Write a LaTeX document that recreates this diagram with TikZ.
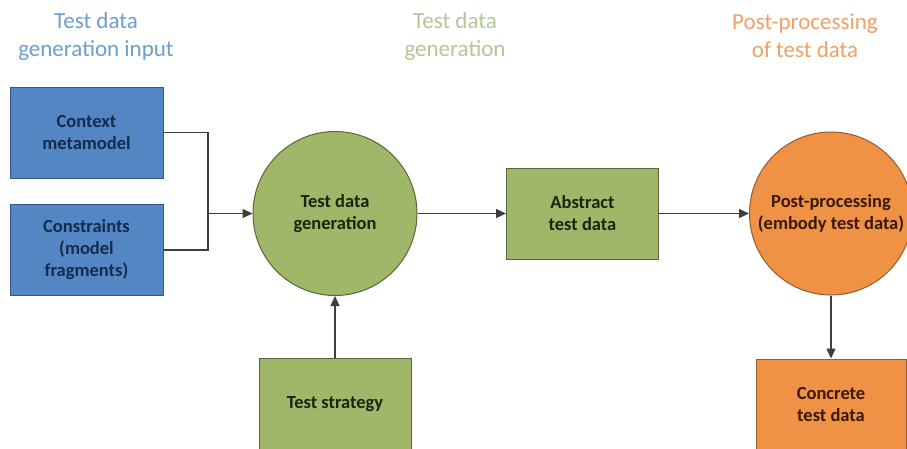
\documentclass[tikz,border=0pt]{standalone}
\usepackage{fontspec}
\setmainfont{Carlito}
\usetikzlibrary{arrows.meta}

\definecolor{bluefill}{RGB}{84,134,195}
\definecolor{blueedge}{RGB}{52,86,128}
\definecolor{bluetext}{RGB}{20,44,78}
\definecolor{greenfill}{RGB}{160,182,104}
\definecolor{greenedge}{RGB}{88,102,58}
\definecolor{greentext}{RGB}{28,36,12}
\definecolor{orangefill}{RGB}{240,146,70}
\definecolor{orangeedge}{RGB}{150,92,48}
\definecolor{orangetext}{RGB}{58,24,6}
\definecolor{wire}{RGB}{62,62,62}
\definecolor{titleblue}{RGB}{110,158,202}
\definecolor{titlegreen}{RGB}{180,198,150}
\definecolor{titleorange}{RGB}{240,160,105}

\tikzset{
  boxtext/.style={font=\fontsize{18.5}{22}\selectfont\bfseries, align=center, inner sep=0pt},
  bluebox/.style={boxtext, draw=blueedge, line width=1pt, fill=bluefill, text=bluetext,
                  minimum width=153pt, minimum height=91pt},
  greenbox/.style={boxtext, draw=greenedge, line width=1pt, fill=greenfill, text=greentext,
                   minimum width=152pt, minimum height=91pt},
  greencirc/.style={boxtext, circle, draw=greenedge, line width=1pt, fill=greenfill, text=greentext,
                    minimum size=164pt},
  orangecirc/.style={boxtext, circle, draw=orangeedge, line width=1pt, fill=orangefill, text=orangetext,
                     minimum size=163pt},
  orangebox/.style={boxtext, draw=orangeedge, line width=1pt, fill=orangefill, text=orangetext,
                    minimum width=150pt, minimum height=90pt},
  phasetitle/.style={font=\fontsize{23}{28}\selectfont, align=center, inner sep=0pt},
  wireline/.style={draw=wire, line width=1.3pt},
  flow/.style={wireline, -{Triangle[length=10pt, width=9pt]}},
}

\begin{document}
\begin{tikzpicture}[x=1pt, y=-1pt]
  \useasboundingbox (0,0) rectangle (907,448);
  \fill[white] (0,0) rectangle (907,448);

  % phase headings
  \node[phasetitle, text=titleblue]   (tinput) at (96,36)  {Test data\\generation input};
  \node[phasetitle, text=titlegreen]  (tgen)   at (455,36) {Test data\\generation};
  \node[phasetitle, text=titleorange] (tpost)  at (805,36) {Post-processing\\of test data};

  % inputs
  \node[bluebox] (ctx)  at (86.5,132.5) {Context\\metamodel};
  \node[bluebox] (cons) at (86.5,250)   {Constraints\\(model\\fragments)};

  % generation
  \node[greencirc] (gen)   at (335,213.5)   {Test data\\generation};
  \node[greenbox]  (strat) at (335,404)     {Test strategy};
  \node[greenbox]  (abs)   at (582.5,213.5) {Abstract\\test data};

  % post-processing
  \node[orangecirc] (post) at (831,213.5) {Post-processing\\(embody test data)};
  \node[orangebox]  (conc) at (831,404)   {Concrete\\test data};

  % connectors
  \coordinate (join) at (208,213.5);
  \draw[wireline] (ctx.east) -| (join);
  \draw[wireline] (cons.east) -| (join);
  \draw[flow] (join) -- (gen.west);
  \draw[flow] (strat.north) -- (gen.south);
  \draw[flow] (gen.east) -- (abs.west);
  \draw[flow] (abs.east) -- (post.west);
  \draw[flow] (post.south) -- (conc.north);
\end{tikzpicture}
\end{document}
